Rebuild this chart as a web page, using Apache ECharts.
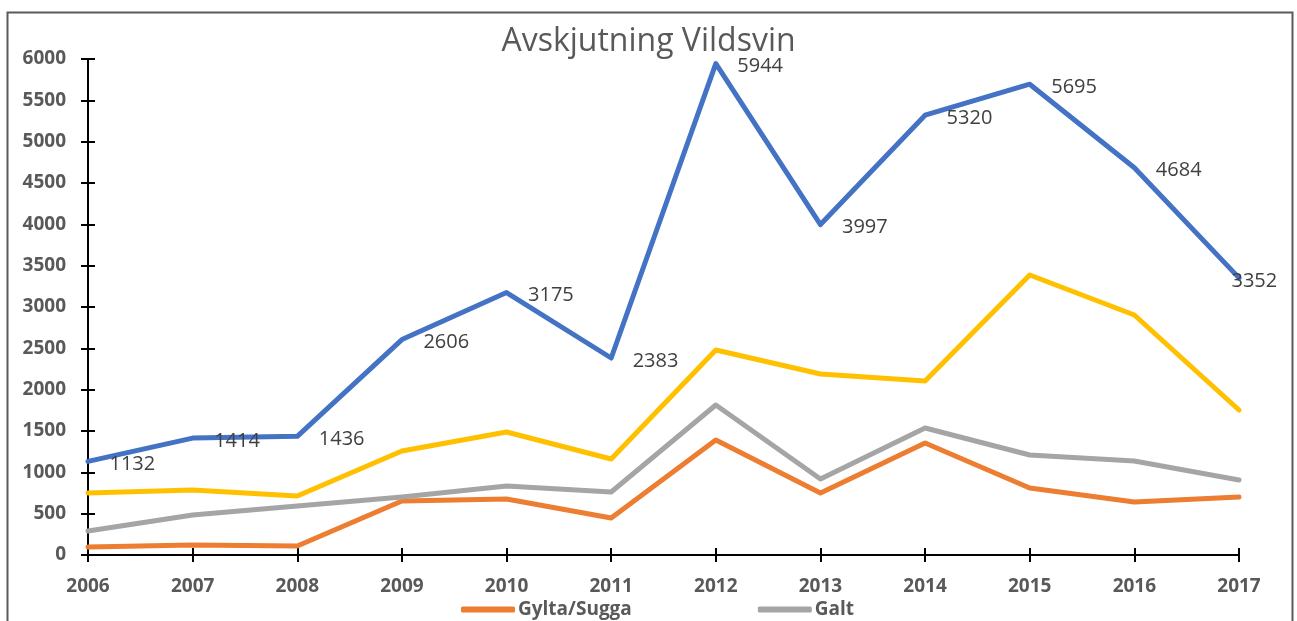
<!DOCTYPE html>
<html>
<head>
<meta charset="utf-8">
<script src="https://cdn.jsdelivr.net/npm/echarts@6/dist/echarts.min.js"></script>
<style>
  html, body { margin: 0; padding: 0; background: #fff; }
  #chart { width: 1297px; height: 621px; }
</style>
</head>
<body>
<div id="chart"></div>
<script>
// data
const years = ['2006', '2007', '2008', '2009', '2010', '2011', '2012', '2013', '2014', '2015', '2016', '2017'];
const totalt = [1132, 1414, 1436, 2606, 3175, 2383, 5944, 3997, 5320, 5695, 4684, 3352];
const kultingar = [750, 786, 714, 1258, 1488, 1161, 2480, 2190, 2105, 3387, 2903, 1754];
const galt = [290, 484, 593, 702, 835, 762, 1815, 919, 1536, 1210, 1137, 907];
const gyltaSugga = [97, 121, 109, 653, 677, 448, 1391, 750, 1355, 810, 641, 702];
const yTicks = [0, 500, 1000, 1500, 2000, 2500, 3000, 3500, 4000, 4500, 5000, 5500, 6000];

const labelFont = 'Open Sans';
const axisGray = '#595959';

const chart = echarts.init(document.getElementById('chart'));

// blue labels sit to the right of the points; the last one is pulled back inside
const totalData = totalt.map((v, i) => {
  if (i === totalt.length - 1) {
    return { value: v, label: { position: 'right', distance: 0, offset: [-8, 3] } };
  }
  return v;
});

function lineSeries(name, data, color, z) {
  return {
    name: name,
    type: 'line',
    data: data,
    symbol: 'circle',
    symbolSize: 1,
    z: z,
    itemStyle: { color: color },
    lineStyle: { color: color, width: 5, cap: 'round', join: 'round' },
    emphasis: { disabled: true },
    animation: false
  };
}

const option = {
  animation: false,
  title: {
    text: 'Avskjutning Vildsvin',
    left: 'center',
    top: 21,
    textStyle: { fontFamily: labelFont, fontSize: 32, fontWeight: 'normal', color: axisGray }
  },
  graphic: [{
    type: 'rect',
    shape: { x: 7.5, y: 12.5, width: 1285, height: 700 },
    style: { fill: 'none', stroke: '#5a5a5a', lineWidth: 2 },
    silent: true
  }],
  legend: {
    data: ['Gylta/Sugga', 'Galt'],
    left: 456,
    top: 595,
    itemWidth: 54,
    itemHeight: 6,
    itemGap: 126,
    icon: 'roundRect',
    textStyle: { fontFamily: labelFont, fontSize: 19, fontWeight: 'bold', color: axisGray, padding: [0, 0, 0, -2] }
  },
  grid: { left: 88, right: 58, top: 59, bottom: 66 },
  xAxis: [{
    type: 'category',
    data: years,
    boundaryGap: false,
    axisLine: { lineStyle: { color: '#000', width: 2 } },
    axisTick: { show: true, length: 7, lineStyle: { color: '#000', width: 2 } },
    axisLabel: { fontFamily: labelFont, fontSize: 19, fontWeight: 'bold', color: axisGray, margin: 22 },
    splitLine: { show: false }
  }, {
    type: 'category',
    data: years,
    position: 'bottom',
    boundaryGap: false,
    axisLine: { show: false },
    axisTick: { show: true, inside: true, length: 7, lineStyle: { color: '#000', width: 2 } },
    axisLabel: { show: false },
    splitLine: { show: false }
  }],
  yAxis: [{
    type: 'value',
    min: yTicks[0],
    max: yTicks[yTicks.length - 1],
    interval: 500,
    axisLine: { show: true, lineStyle: { color: '#000', width: 2 } },
    axisTick: { show: true, length: 7, lineStyle: { color: '#000', width: 2 } },
    axisLabel: { fontFamily: labelFont, fontSize: 19, fontWeight: 'bold', color: axisGray, margin: 22, formatter: v => String(v) },
    splitLine: { show: false }
  }, {
    type: 'value',
    position: 'left',
    min: yTicks[0],
    max: yTicks[yTicks.length - 1],
    interval: 500,
    axisLine: { show: false },
    axisTick: { show: true, inside: true, length: 7, lineStyle: { color: '#000', width: 2 } },
    axisLabel: { show: false },
    splitLine: { show: false }
  }],
  series: [
    Object.assign(lineSeries('Totalt', totalData, '#4472C4', 5), {
      label: {
        show: true,
        position: 'right',
        distance: 21,
        offset: [0, 3],
        fontFamily: labelFont,
        fontSize: 20,
        color: '#404040'
      }
    }),
    lineSeries('Kultingar', kultingar, '#FFC000', 4),
    lineSeries('Galt', galt, '#A5A5A5', 3),
    lineSeries('Gylta/Sugga', gyltaSugga, '#ED7D31', 2)
  ]
};

chart.setOption(option);
</script>
</body>
</html>
